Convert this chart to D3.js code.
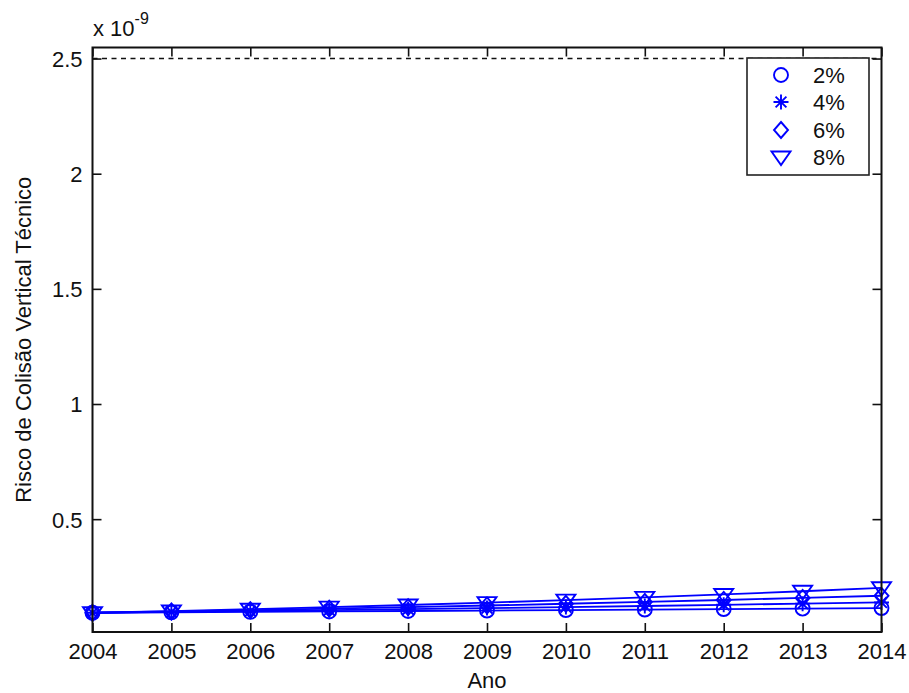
<!DOCTYPE html>
<html>
<head>
<meta charset="utf-8">
<script src="https://cdn.jsdelivr.net/npm/d3@7"></script>
<style>
  html, body { margin: 0; padding: 0; background: #fff; }
  svg { display: block; }
  text { font-family: "Liberation Sans", Arial, Helvetica, sans-serif; fill: #111; }
</style>
</head>
<body>
<svg id="chart" width="909" height="693"></svg>
<script>
// Years on the horizontal axis
const years = [2004, 2005, 2006, 2007, 2008, 2009, 2010, 2011, 2012, 2013, 2014];

// Technical vertical collision risk (x 1e-9) for each traffic growth rate
const risk2 = [0.0935, 0.0954, 0.0973, 0.0992, 0.1012, 0.1032, 0.1053, 0.1074, 0.1096, 0.1117, 0.1140];
const risk4 = [0.0935, 0.0972, 0.1011, 0.1052, 0.1094, 0.1138, 0.1183, 0.1230, 0.1280, 0.1331, 0.1384];
const risk6 = [0.0935, 0.0991, 0.1051, 0.1114, 0.1180, 0.1251, 0.1326, 0.1406, 0.1490, 0.1580, 0.1674];
const risk8 = [0.0935, 0.1010, 0.1091, 0.1178, 0.1272, 0.1374, 0.1484, 0.1602, 0.1731, 0.1869, 0.2019];

const seriesLabels = ["2%", "4%", "6%", "8%"];
const seriesMarkers = ["circle", "star", "diamond", "triangle"];

// Target level of safety
const targetLevel = [2.5];

const yTicks = [0.5, 1, 1.5, 2, 2.5];
const xTicks = years;

const series = [risk2, risk4, risk6, risk8].map((vals, i) => ({
  label: seriesLabels[i],
  marker: seriesMarkers[i],
  points: years.map((yr, j) => ({ x: yr, y: vals[j] }))
}));

const svg = d3.select("#chart");
const plotL = 92.5, plotR = 881.5, plotT = 47.5, plotB = 632;
const blue = "#0000ff";

const x = d3.scaleLinear().domain([2004, 2014]).range([plotL, plotR]);
const y = d3.scaleLinear().domain([0.01, 2.548]).range([plotB, plotT]);

svg.append("rect").attr("width", 909).attr("height", 693).attr("fill", "#fff");

// Axes with inward ticks on all four sides
const fontSize = 22;
const gx = svg.append("g").attr("transform", `translate(0,${plotB})`)
  .call(d3.axisBottom(x).tickValues(xTicks).tickFormat(d3.format("d")).tickSize(-9).tickSizeOuter(0).tickPadding(11));
const gxTop = svg.append("g").attr("transform", `translate(0,${plotT})`)
  .call(d3.axisTop(x).tickValues(xTicks).tickFormat("").tickSize(-9).tickSizeOuter(0));
const gy = svg.append("g").attr("transform", `translate(${plotL},0)`)
  .call(d3.axisLeft(y).tickValues(yTicks).tickFormat(d => String(d)).tickSize(-9).tickSizeOuter(0).tickPadding(10));
const gyRight = svg.append("g").attr("transform", `translate(${plotR},0)`)
  .call(d3.axisRight(y).tickValues(yTicks).tickFormat("").tickSize(-9).tickSizeOuter(0));

[gx, gxTop, gy, gyRight].forEach(g => {
  g.select(".domain").remove();
  g.selectAll(".tick line").attr("stroke", "#111").attr("stroke-width", 1.6);
  g.selectAll(".tick text").attr("font-size", fontSize).attr("fill", "#111")
    .style("font-family", "'Liberation Sans', Arial, sans-serif");
});
gy.selectAll(".tick text").attr("dy", "0.36em");

// Dashed target line
svg.append("line")
  .attr("x1", plotL).attr("x2", plotR)
  .attr("y1", y(targetLevel[0])).attr("y2", y(targetLevel[0]))
  .attr("stroke", "#111").attr("stroke-width", 1.4)
  .attr("stroke-dasharray", "5,4.5");

// Series lines
const line = d3.line().x(d => x(d.x)).y(d => y(d.y));
const lines = svg.append("g");
series.forEach(s => {
  lines.append("path").datum(s.points)
    .attr("d", line)
    .attr("fill", "none").attr("stroke", blue).attr("stroke-width", 1.8);
});

// Marker shapes
function drawMarker(g, type, cx, cy) {
  const st = { fill: "none", stroke: blue, "stroke-width": 1.9 };
  let el;
  if (type === "circle") {
    el = g.append("circle").attr("cx", cx).attr("cy", cy).attr("r", 7);
  } else if (type === "star") {
    const r = 7.5, d = r * 0.72;
    el = g.append("path").attr("d",
      `M${cx - r},${cy}H${cx + r}M${cx},${cy - r}V${cy + r}` +
      `M${cx - d},${cy - d}L${cx + d},${cy + d}M${cx - d},${cy + d}L${cx + d},${cy - d}`);
  } else if (type === "diamond") {
    el = g.append("path").attr("d",
      `M${cx},${cy - 8}L${cx + 7},${cy}L${cx},${cy + 8}L${cx - 7},${cy}Z`);
  } else {
    el = g.append("path").attr("d",
      `M${cx - 9.5},${cy - 5.5}L${cx + 9.5},${cy - 5.5}L${cx},${cy + 8}Z`);
  }
  Object.entries(st).forEach(([k, v]) => el.attr(k, v));
}

series.forEach(s => {
  const g = svg.append("g");
  s.points.forEach(p => drawMarker(g, s.marker, x(p.x), y(p.y)));
});

// Axes box
svg.append("rect")
  .attr("x", plotL).attr("y", plotT)
  .attr("width", plotR - plotL).attr("height", plotB - plotT)
  .attr("fill", "none").attr("stroke", "#111").attr("stroke-width", 2);

// Exponent label
const expo = svg.append("text").attr("x", 93).attr("y", 36).attr("font-size", fontSize);
expo.append("tspan").text("x 10");
expo.append("tspan").attr("dy", -12).attr("font-size", 16).text("-9");

// Axis titles
svg.append("text").attr("x", (plotL + plotR) / 2).attr("y", 688)
  .attr("text-anchor", "middle").attr("font-size", fontSize).text("Ano");
svg.append("text")
  .attr("transform", `translate(31,${(plotT + plotB) / 2}) rotate(-90)`)
  .attr("text-anchor", "middle").attr("font-size", fontSize)
  .text("Risco de Colisão Vertical Técnico");

// Legend
const lg = svg.append("g");
lg.append("rect").attr("x", 747).attr("y", 58).attr("width", 122).attr("height", 117)
  .attr("fill", "#fff").attr("stroke", "#222").attr("stroke-width", 1.6);
const rowY = [75, 102, 130, 157];
series.forEach((s, i) => {
  drawMarker(lg, s.marker, 781, rowY[i]);
  lg.append("text").attr("x", 813).attr("y", rowY[i]).attr("dy", "0.36em")
    .attr("font-size", fontSize).text(s.label);
});
</script>
</body>
</html>
